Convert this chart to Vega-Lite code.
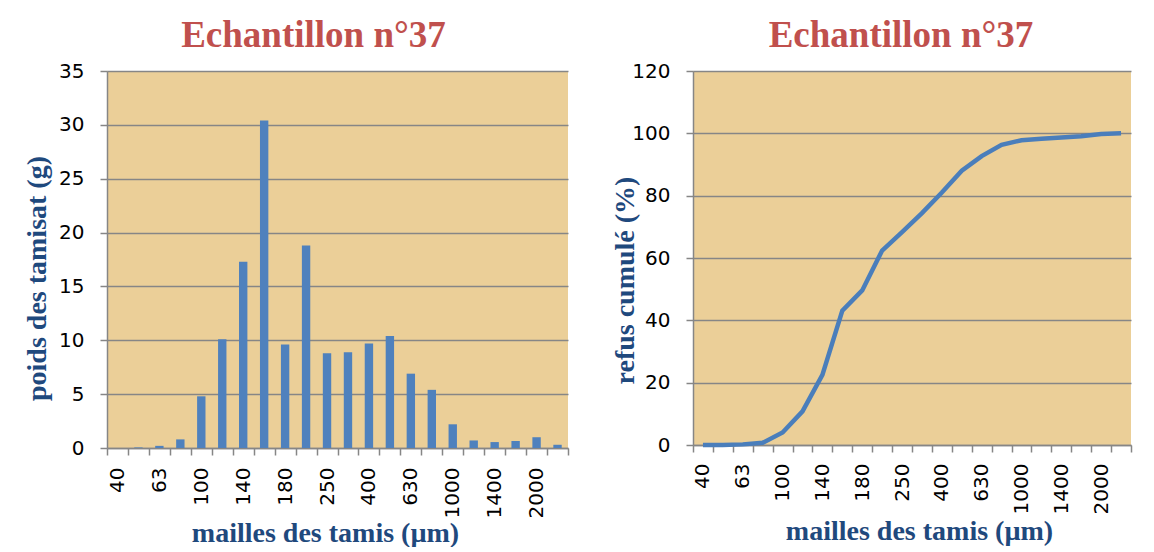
{
  "$schema": "https://vega.github.io/schema/vega-lite/v6.json",
  "background": "white",
  "padding": {"left": 23, "top": 17, "right": 5, "bottom": 0},
  "autosize": {"type": "pad"},
  "bounds": "flush",
  "spacing": 125,
  "config": {
    "view": {"fill": "#EBCF98", "stroke": null},
    "title": {"font": "Liberation Serif", "fontSize": 37, "fontWeight": "bold", "color": "#C0504D", "anchor": "middle", "frame": "group", "offset": 6},
    "axis": {
      "labelFont": "DejaVu Sans", "labelFontSize": 20, "labelColor": "#000000",
      "titleFont": "Liberation Serif", "titleFontSize": 28, "titleFontWeight": "bold", "titleColor": "#1F497D",
      "domainColor": "#868686", "domainWidth": 1.5, "tickColor": "#868686", "tickWidth": 1.5, "tickSize": 7,
      "gridColor": "#868686", "gridWidth": 1.6, "gridOpacity": 1
    }
  },
  "datasets": {
    "poids": [
      {"maille": "40", "poids": 0},
      {"maille": "50", "poids": 0.05},
      {"maille": "63", "poids": 0.2},
      {"maille": "80", "poids": 0.8},
      {"maille": "100", "poids": 4.8},
      {"maille": "125", "poids": 10.1},
      {"maille": "140", "poids": 17.3},
      {"maille": "160", "poids": 30.4},
      {"maille": "180", "poids": 9.6},
      {"maille": "200", "poids": 18.8},
      {"maille": "250", "poids": 8.8},
      {"maille": "315", "poids": 8.9},
      {"maille": "400", "poids": 9.7},
      {"maille": "500", "poids": 10.4},
      {"maille": "630", "poids": 6.9},
      {"maille": "800", "poids": 5.4},
      {"maille": "1000", "poids": 2.2},
      {"maille": "1250", "poids": 0.7},
      {"maille": "1400", "poids": 0.55},
      {"maille": "1600", "poids": 0.65},
      {"maille": "2000", "poids": 1.0},
      {"maille": "2500", "poids": 0.3}
    ],
    "refus": [
      {"maille": "40", "refus": 0},
      {"maille": "50", "refus": 0.03},
      {"maille": "63", "refus": 0.2},
      {"maille": "80", "refus": 0.7},
      {"maille": "100", "refus": 4.0},
      {"maille": "125", "refus": 10.8},
      {"maille": "140", "refus": 22.5},
      {"maille": "160", "refus": 43.1},
      {"maille": "180", "refus": 49.6},
      {"maille": "200", "refus": 62.4},
      {"maille": "250", "refus": 68.3},
      {"maille": "315", "refus": 74.4},
      {"maille": "400", "refus": 81.0},
      {"maille": "500", "refus": 88.0},
      {"maille": "630", "refus": 92.7},
      {"maille": "800", "refus": 96.3},
      {"maille": "1000", "refus": 97.8},
      {"maille": "1250", "refus": 98.3},
      {"maille": "1400", "refus": 98.7},
      {"maille": "1600", "refus": 99.1},
      {"maille": "2000", "refus": 99.8},
      {"maille": "2500", "refus": 100}
    ]
  },
  "hconcat": [
    {
      "width": 461,
      "height": 377,
      "title": {"text": "Echantillon n°37", "dx": -24},
      "data": {"name": "poids"},
      "mark": {"type": "bar", "color": "#4F81BD", "width": {"band": 0.4}},
      "encoding": {
        "x": {
          "field": "maille", "type": "ordinal", "sort": null,
          "scale": {"type": "band", "paddingInner": 0, "paddingOuter": 0},
          "axis": {
            "title": "mailles  des tamis (µm)", "titleX": 218, "titleY": 93, "titleBaseline": "alphabetic", "titleAnchor": "middle",
            "labelAngle": -90, "labelPadding": 12, "tickBand": "extent", "grid": false, "labelOverlap": false,
            "labelExpr": "indexof(['40','63','100','140','180','250','400','630','1000','1400','2000'], datum.label) >= 0 ? datum.label : ''"
          }
        },
        "y": {
          "field": "poids", "type": "quantitative",
          "scale": {"domain": [0, 35], "nice": false},
          "axis": {
            "values": [0, 5, 10, 15, 20, 25, 30, 35], "grid": true,
            "title": "poids des tamisat (g)", "titleX": -70, "titleY": 207, "titleBaseline": "middle", "titleAngle": -90, "titleAlign": "center",
            "labelPadding": 16
          }
        }
      }
    },
    {
      "width": 438,
      "height": 374,
      "title": {"text": "Echantillon n°37", "dx": -11},
      "data": {"name": "refus"},
      "mark": {"type": "line", "color": "#4A7EBB", "strokeWidth": 4.5},
      "encoding": {
        "x": {
          "field": "maille", "type": "ordinal", "sort": null, "bandPosition": 0.5,
          "scale": {"type": "band", "paddingInner": 0, "paddingOuter": 0},
          "axis": {
            "title": "mailles des tamis (µm)", "titleX": 226, "titleY": 94, "titleBaseline": "alphabetic", "titleAnchor": "middle",
            "labelAngle": -90, "labelPadding": 11, "tickBand": "extent", "grid": false, "labelOverlap": false,
            "labelExpr": "indexof(['40','63','100','140','180','250','400','630','1000','1400','2000'], datum.label) >= 0 ? datum.label : ''"
          }
        },
        "y": {
          "field": "refus", "type": "quantitative",
          "scale": {"domain": [0, 120], "nice": false},
          "axis": {
            "values": [0, 20, 40, 60, 80, 100, 120], "grid": true,
            "title": "refus cumulé (%)", "titleX": -68, "titleY": 209, "titleBaseline": "middle", "titleAngle": -90, "titleAlign": "center",
            "labelPadding": 16
          }
        }
      }
    }
  ]
}
